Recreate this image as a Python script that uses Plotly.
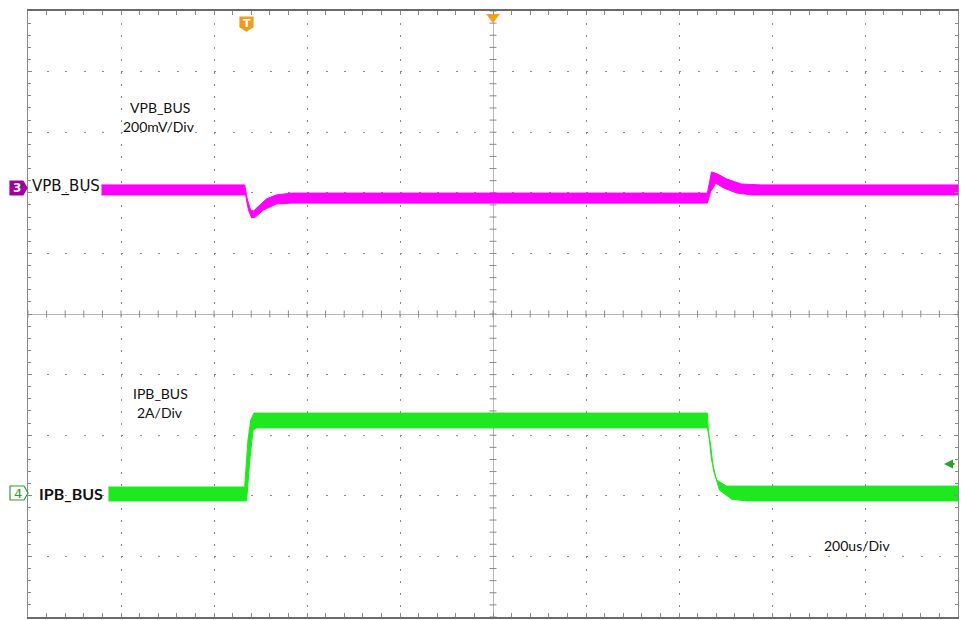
import numpy as np
import plotly.graph_objects as go

# ---------------- data (screen values) ----------------
# time in microseconds (200 us/div, 10 div across, trigger at 0)
vpb_upper_t = [-842, -534, -528, -521, -515, -502, -487, -466, -433, 461, 466, 470, 483, 502, 534, 577, 1000]
vpb_upper_mv = [426, 426, 376, 343, 340, 360, 380, 393, 399, 399, 442, 469, 462, 446, 429, 426, 426]
vpb_lower_t = [-842, -532, -526, -519, -511, -494, -466, -433, 461, 468, 479, 496, 524, 556, 1000]
vpb_lower_mv = [393, 393, 343, 317, 320, 343, 363, 366, 366, 403, 432, 416, 399, 393, 393]

ipb_upper_t = [-827, -534, -527, -521, -514, 461, 463, 470, 481, 502, 1000]
ipb_upper_a = [-5.71, -5.71, -4.16, -3.50, -3.27, -3.27, -3.83, -4.82, -5.48, -5.68, -5.68]
ipb_lower_t = [-827, -530, -523, -516, -508, 461, 468, 474, 487, 513, 545, 1000]
ipb_lower_a = [-6.17, -6.17, -4.82, -3.83, -3.76, -3.76, -4.32, -5.15, -5.81, -6.11, -6.17, -6.17]

# axis scales
t_range = [-1000, 1000]      # 200 us/div
v_range = [-1000, 1000]      # 200 mV/div
i_range = [-10, 10]          # 2 A/div

MAGENTA = "#ff00ff"
GREEN = "#1ee81e"
GRID = "#8a8a8a"
ORANGE = "#f29b1d"
CH3 = "#a000a0"
CH4 = "#2e9e2e"
FONT = "Lato"

fig = go.Figure()

# center-line tick marks (graticule decoration)
tx = np.arange(t_range[0], t_range[1] + 1, 40)
vy = np.arange(v_range[0], v_range[1] + 1, 40)
fig.add_trace(go.Scatter(x=tx, y=[0] * len(tx), mode="markers",
                         marker=dict(symbol="line-ns", size=5, line=dict(color=GRID, width=1)),
                         hoverinfo="skip", showlegend=False, cliponaxis=False))
fig.add_trace(go.Scatter(x=[0] * len(vy), y=vy, mode="markers",
                         marker=dict(symbol="line-ew", size=5, line=dict(color=GRID, width=1)),
                         hoverinfo="skip", showlegend=False, cliponaxis=False))

# VPB_BUS band
fig.add_trace(go.Scatter(x=vpb_upper_t + vpb_lower_t[::-1],
                         y=vpb_upper_mv + vpb_lower_mv[::-1],
                         fill="toself", fillcolor=MAGENTA, mode="lines",
                         line=dict(color=MAGENTA, width=1), name="VPB_BUS",
                         showlegend=False, hoverinfo="skip"))
# IPB_BUS band
fig.add_trace(go.Scatter(x=ipb_upper_t + ipb_lower_t[::-1],
                         y=ipb_upper_a + ipb_lower_a[::-1],
                         fill="toself", fillcolor=GREEN, mode="lines",
                         line=dict(color=GREEN, width=1), name="IPB_BUS",
                         yaxis="y2", showlegend=False, hoverinfo="skip"))

# trigger markers
fig.add_trace(go.Scatter(x=[0], y=[v_range[1] - 20], mode="markers",
                         marker=dict(symbol="triangle-down", size=12, color="#f5a01a"),
                         hoverinfo="skip", showlegend=False, cliponaxis=False))
fig.add_trace(go.Scatter(x=[-253], y=[v_range[1] + 10], mode="markers",
                         marker=dict(symbol="square", size=4, color="#f5a01a"),
                         hoverinfo="skip", showlegend=False, cliponaxis=False))

fig.update_layout(
    width=964, height=620,
    margin=dict(l=28, r=6, t=11, b=3),
    paper_bgcolor="white", plot_bgcolor="white",
    font=dict(family=FONT, size=14, color="#111"),
    xaxis=dict(range=t_range, dtick=200, showticklabels=False,
               showgrid=True, gridcolor=GRID, gridwidth=1, griddash="2px,10.12px",
               zeroline=True, zerolinecolor="#b8b8b8", zerolinewidth=1,
               showline=True, linecolor="#6a6a6a", linewidth=2, mirror="allticks",
               ticks="inside", ticklen=4, tickcolor=GRID,
               minor=dict(dtick=40, ticks="inside", ticklen=3, tickcolor=GRID, showgrid=False)),
    yaxis=dict(range=v_range, dtick=200, showticklabels=False,
               showgrid=True, gridcolor=GRID, gridwidth=1, griddash="2px,16.6px",
               zeroline=True, zerolinecolor="#b8b8b8", zerolinewidth=1,
               showline=True, linecolor="#8a8a8a", linewidth=1, mirror="allticks",
               ticks="inside", ticklen=4, tickcolor=GRID,
               minor=dict(dtick=40, ticks="inside", ticklen=3, tickcolor=GRID, showgrid=False)),
    yaxis2=dict(range=i_range, overlaying="y", visible=False),
)

def px_x(p):
    return (p - 28) / 930.0

def px_y(p):
    return (617 - p) / 606.0

def add_text(text, x, y, size, family=FONT, color="#111", xanchor="center", **kw):
    fig.add_annotation(text=text, x=px_x(x), y=px_y(y), xref="paper", yref="paper",
                       xanchor=xanchor, yanchor="middle", showarrow=False,
                       font=dict(family=family, size=size, color=color), **kw)

def add_poly(pts, fill, line):
    path = "M " + " L ".join(f"{px_x(a):.5f},{px_y(b):.5f}" for a, b in pts) + " Z"
    fig.add_shape(type="path", path=path, xref="paper", yref="paper",
                  fillcolor=fill, line=dict(color=line, width=1.2), layer="above")

# channel / trigger badges
add_poly([(10, 181), (23, 181), (27, 188), (23, 195), (10, 195)], CH3, CH3)
add_poly([(10, 486), (24, 486), (28, 493), (24, 500), (10, 500)], "white", CH4)
add_poly([(240, 17), (253, 17), (253, 27), (246.5, 31), (240, 27)], ORANGE, ORANGE)

add_text("VPB_BUS", 160, 107, 14)
add_text("200mV/Div", 159, 127, 14)
add_text("IPB_BUS", 160, 393, 14)
add_text("2A/Div", 160, 412, 14)
add_text("200us/Div", 857, 545, 14)

# channel labels
add_text("VPB_BUS", 30, 187, 15, family="DejaVu Sans", xanchor="left")
add_text("<b>IPB_BUS</b>", 37, 493, 16, xanchor="left")
add_text("<b>3</b>", 17, 188, 12, family="DejaVu Sans", color="white")
add_text("4", 17.5, 493, 13, family="DejaVu Sans", color=CH4)
add_text("<b>T</b>", 246.5, 23, 11, family="DejaVu Sans", color="white")

fig.add_annotation(text="", x=px_x(944), y=px_y(464), xref="paper", yref="paper",
                   showarrow=True, ax=12, ay=0, arrowhead=2, arrowsize=1, arrowwidth=1.8,
                   arrowcolor=CH4)

fig.write_html("out.html", config={"displayModeBar": False},
               post_script="document.body.style.margin='0';document.body.style.padding='0';")
